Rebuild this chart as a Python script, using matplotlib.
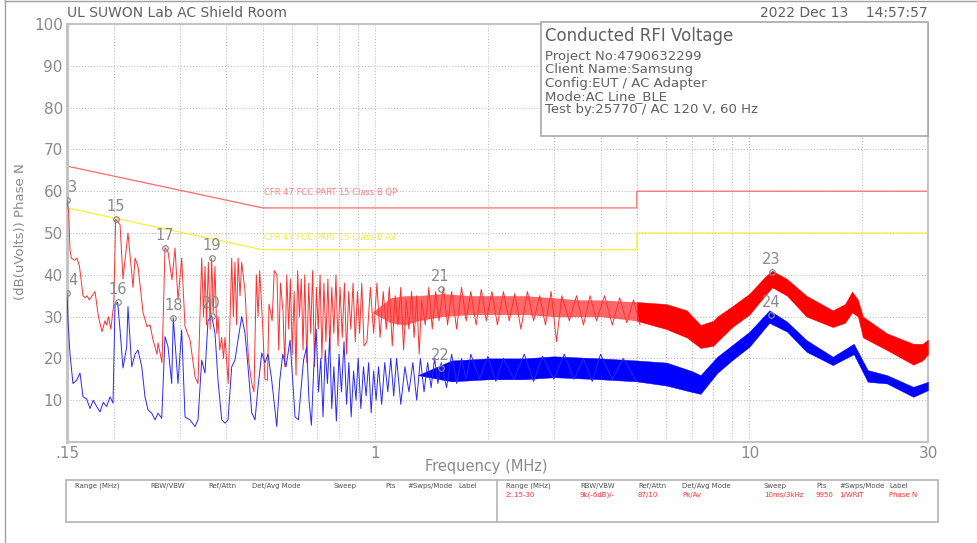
import matplotlib
matplotlib.use("Agg")
import matplotlib.pyplot as plt
from matplotlib.patches import Rectangle
from matplotlib.lines import Line2D

# ---- data ----
# peak trace (red), low band drawn as a line
red_f = [0.150, 0.1515, 0.1528, 0.154, 0.157, 0.1595, 0.162, 0.1655, 0.168, 0.1697,
         0.172, 0.1782, 0.182, 0.186, 0.1895, 0.1915, 0.1935, 0.1965, 0.200, 0.2024,
         0.2079, 0.2117, 0.2183, 0.2252, 0.2280, 0.2322, 0.2395, 0.2454, 0.2500, 0.2547,
         0.2610, 0.2626, 0.2692, 0.2742, 0.2793, 0.2862, 0.2916, 0.2970, 0.3038, 0.3101,
         0.3198, 0.3298, 0.3359, 0.3436, 0.3475, 0.3507, 0.354, 0.358, 0.362, 0.3654,
         0.369, 0.3729, 0.377, 0.380, 0.384, 0.3886, 0.393, 0.3966, 0.4046, 0.4133,
         0.4175, 0.4217, 0.426, 0.430, 0.435, 0.4396, 0.4486, 0.458, 0.4675, 0.474,
         0.481, 0.486, 0.491, 0.500, 0.507, 0.515, 0.520, 0.530, 0.537, 0.546,
         0.552, 0.558, 0.567, 0.573, 0.580, 0.587, 0.593, 0.600, 0.607, 0.614,
         0.620, 0.627, 0.634, 0.641, 0.648, 0.656, 0.664, 0.672, 0.680, 0.688,
         0.696, 0.704, 0.712, 0.720, 0.729, 0.738, 0.747, 0.756, 0.765, 0.775,
         0.785, 0.795, 0.805, 0.816, 0.827, 0.838, 0.849, 0.860, 0.872, 0.884,
         0.896, 0.908, 0.920, 0.933, 0.95, 0.97, 0.99, 1.01, 1.03, 1.05,
         1.07, 1.09, 1.11, 1.13, 1.15, 1.17, 1.19, 1.21, 1.23, 1.25,
         1.27, 1.29, 1.31, 1.33, 1.36, 1.39, 1.42, 1.45, 1.48, 1.52,
         1.56, 1.60, 1.65, 1.70, 1.75, 1.80, 1.86, 1.92, 1.98, 2.05,
         2.12, 2.20, 2.28, 2.36, 2.45, 2.55, 2.65, 2.75, 2.85, 2.95,
         3.05, 3.15, 3.30, 3.45, 3.60, 3.75, 3.90, 4.10, 4.30, 4.50,
         4.70, 4.90, 5.10]
red_db = [57.9, 55, 46, 44, 43.5, 44, 42, 35, 34.5, 35,
          34, 36, 30, 26.4, 29, 28, 30, 27, 33, 53.3,
          52, 39, 50, 37, 44, 42, 31, 27.6, 28, 24.4,
          21, 23.7, 19, 46.5, 45.5, 38.8, 46.4, 34, 44, 27.6,
          24.4, 15.6, 14, 44, 30, 42, 28, 43, 27, 43.9,
          31, 42, 26, 30, 22, 25, 20, 25, 14, 44,
          30, 43, 28, 44, 35, 43, 36, 20, 14, 12,
          40, 30, 41, 28, 15, 14.8, 33, 29, 41, 40,
          22, 38, 31, 18, 40, 27, 39, 21, 36, 16,
          41, 30, 39, 22, 40, 19, 38, 26, 41, 18,
          37, 27, 40, 20, 38, 24, 39, 22, 37, 26,
          40, 23, 37, 25, 38, 21, 36, 27, 38, 24,
          36, 26, 38, 23, 24, 37, 26, 38, 25, 36,
          27, 37, 23, 35, 28, 37, 22, 34, 27, 36,
          25, 35, 21, 34, 28, 37, 27, 36, 29, 37,
          28, 36, 27, 37, 29, 36, 28, 36.5, 29, 36,
          28, 36, 29, 35.5, 27, 36, 29, 35, 28, 36,
          24, 35, 29, 35, 28, 35, 29, 35, 28, 34.5,
          28.5, 34, 28]

# peak trace above ~1 MHz: min / max of the dense noise band
red_env_f = [0.98, 1.1, 1.2, 1.3, 1.5, 1.8, 2.0, 2.5, 3.0,
             3.5, 4.0, 5.0, 6.0, 6.8, 7.4, 8.0, 8.2, 9.0, 10.0,
             11.0, 11.5, 12.6, 14.2, 16.7, 18.0, 18.8, 19.5, 20.1, 23.3,
             27.4, 29.0, 30.0]
red_env_lo = [31, 28.5, 28, 29, 30, 30.5, 30.5, 30.5, 30,
              30, 30, 29, 27, 25, 22.5, 23, 24, 27.5, 30.5,
              35, 37, 35, 30, 27.5, 28.5, 31, 30, 25, 22,
              18.5, 19.5, 21]
red_env_hi = [31, 34.5, 35, 35, 35.5, 35, 35, 35, 34.5,
              34, 34, 33.5, 33, 31.5, 28, 29, 30, 32.5, 35.5,
              39.5, 41, 39, 35, 31.5, 33, 36, 34, 30, 26,
              23.5, 23.5, 24.5]

# average trace (blue)
blue_f = [0.150, 0.1509, 0.1528, 0.1556, 0.1592, 0.1625, 0.1655, 0.1693, 0.1728, 0.1763,
          0.1800, 0.1838, 0.1875, 0.1915, 0.1955, 0.1991, 0.2016, 0.2049, 0.2079, 0.2117,
          0.2166, 0.2183, 0.2234, 0.2280, 0.2322, 0.2376, 0.2424, 0.2469, 0.2526, 0.2578,
          0.2626, 0.2687, 0.2742, 0.2793, 0.2857, 0.2885, 0.2970, 0.3038, 0.3101, 0.3198,
          0.3298, 0.3359, 0.3436, 0.3507, 0.3572, 0.3654, 0.3729, 0.3799, 0.3886, 0.3966,
          0.4040, 0.4133, 0.4217, 0.4296, 0.4396, 0.4486, 0.4569, 0.4675, 0.4771, 0.486,
          0.4972, 0.5074, 0.5168, 0.5287, 0.5453, 0.5555, 0.566, 0.5774, 0.5918, 0.6103,
          0.623, 0.643, 0.6559, 0.665, 0.675, 0.685, 0.695, 0.705, 0.715, 0.725,
          0.735, 0.745, 0.755, 0.765, 0.775, 0.787, 0.800, 0.812, 0.825, 0.838,
          0.850, 0.862, 0.875, 0.888, 0.900, 0.915, 0.930, 0.945, 0.960, 0.975,
          0.990, 1.005, 1.020, 1.040, 1.060, 1.080, 1.100, 1.12, 1.14, 1.17,
          1.20, 1.23, 1.26, 1.29, 1.32, 1.35, 1.38, 1.41, 1.44, 1.47,
          1.50, 1.55, 1.60, 1.65, 1.70, 1.75, 1.80, 1.90, 2.00, 2.10,
          2.20, 2.35, 2.50, 2.65, 2.80, 3.00, 3.20, 3.40, 3.60, 3.80,
          4.00, 4.30, 4.60, 5.00]
blue_db = [35.6, 29, 21, 14, 14.8, 16.5, 10.8, 10.3, 8, 10,
           8.5, 7.2, 9.5, 8.5, 10.8, 9.3, 33, 33.4, 26.8, 17.7,
           22.8, 32.4, 18, 21, 22, 18, 10.8, 7.7, 6.9, 5.3,
           6.9, 5.7, 25.2, 22.8, 14, 29.7, 14, 26.8, 6, 5.3,
           3.7, 5.3, 19.6, 16.5, 29, 30.2, 26, 14.8, 5.3, 4.5,
           5.3, 18, 19.6, 24.4, 30, 26, 18, 7, 5.3, 13.2,
           21.3, 19, 21, 14.8, 3.7, 14.8, 21, 18, 24.4, 6,
           5.3, 19.6, 22.8, 10, 4, 18, 27, 12, 20, 6,
           22, 14, 25, 8, 18, 5, 21, 12, 24, 9,
           19, 6, 17, 10, 20, 8, 18, 11, 19, 7,
           17, 10, 18, 9, 19, 12, 20, 11, 20, 9,
           18, 12, 19, 10, 20, 12, 19, 13, 20, 14,
           19, 13, 21, 14, 20, 15, 21, 15, 20.5, 14.5,
           20, 15, 21, 14.5, 20.5, 15, 21, 15, 20, 14.5,
           21, 15, 20, 14.5]

blue_env_f = [1.3, 1.6, 2.0, 2.5, 3.0, 4.0, 5.0, 6.0,
              7.0, 7.4, 8.2, 9.0, 10.0, 11.3, 12.6, 14.2, 16.7, 19.0,
              20.7, 23.3, 27.4, 30.0]
blue_env_lo = [16, 14.5, 15, 15, 15.5, 15, 14.5, 13.5,
               12, 11.5, 16.5, 19.6, 22.8, 28.5, 26.4, 21.6, 18.4, 21,
               14.4, 14, 10.8, 12.4]
blue_env_hi = [16, 19.5, 20, 20, 20.5, 20, 19.5, 19,
               17, 16, 20.4, 23.2, 26.4, 31.5, 28.8, 24.4, 20.4, 23.5,
               17.2, 16, 13.2, 14.4]

# FCC Part 15 class B limits
lim_f = [0.15, 0.5, 5.0, 5.0, 30.0]
qp_lim = [66, 56, 56, 60, 60]
av_lim = [56, 46, 46, 50, 50]

# markers
mk_names = ["3", "4", "15", "16", "17", "18", "19", "20", "21", "22", "23", "24"]
mk_f = [0.150, 0.150, 0.2024, 0.2049, 0.2742, 0.2885, 0.3654, 0.3654, 1.494, 1.494, 11.46, 11.40]
mk_db = [57.9, 35.6, 53.3, 33.4, 46.5, 29.7, 43.9, 30.2, 36.6, 17.7, 40.6, 30.4]

grid_f = [0.2, 0.3, 0.4, 0.5, 0.6, 0.7, 0.8, 0.9, 1, 2, 3, 4, 5, 6, 7, 8, 9, 10, 20]
grid_db = [10, 20, 30, 40, 50, 60, 70, 80, 90]

info_lines = ["Project No:4790632299", "Client Name:Samsung", "Config:EUT / AC Adapter",
              "Mode:AC Line_BLE", "Test by:25770 / AC 120 V, 60 Hz"]
tbl_head = ["Range (MHz)", "RBW/VBW", "Ref/Attn", "Det/Avg Mode", "Sweep", "Pts", "#Swps/Mode", "Label"]
tbl_vals = ["2:.15-30", "9k(-6dB)/-", "87/10", "Pk/Av", "10ms/3kHz", "9950", "1/WRIT", "Phase N"]
tbl_x = [75, 150, 208, 252, 333, 385, 407, 458]
tbl_x2 = [506, 580, 638, 682, 764, 816, 839, 889]

W, H = 977, 543
GRAY = "#8a8a8a"


def fx(px):
    return px / W


def fy(py):
    return 1 - py / H


fig = plt.figure(figsize=(W / 100, H / 100), dpi=100)
ax = fig.add_axes([fx(67), fy(442), (928 - 67) / W, (442 - 24) / H])
ax.set_xscale("log")
ax.set_xlim(0.15, 30)
ax.set_ylim(0, 100)

for g in grid_f:
    ax.axvline(g, color="#b4b4b4", lw=0.7, ls=(0, (1, 2)), zorder=1)
for g in grid_db:
    ax.axhline(g, color="#b4b4b4", lw=0.7, ls=(0, (1, 2)), zorder=1)

ax.set_xticks([0.15, 1, 10, 30])
ax.set_xticklabels([".15", "1", "10", "30"])
ax.xaxis.set_minor_locator(matplotlib.ticker.NullLocator())
ax.set_yticks(range(10, 101, 10))
ax.tick_params(length=0, colors=GRAY, labelsize=11, pad=3)
for s in ax.spines.values():
    s.set_color("#c4c4c4")
    s.set_linewidth(1.5)
ax.spines["left"].set_linewidth(2.2)

# limits
ax.plot(lim_f, qp_lim, color="#ff6a6a", lw=0.9, zorder=2)
ax.plot(lim_f, av_lim, color="#f2f23a", lw=0.9, zorder=2)
ax.text(0.505, 59.6, "CFR 47 FCC PART 15 Class B QP", color="#ff8080", fontsize=6, va="center")
ax.text(0.505, 49.0, "CFR 47 FCC PART 15 Class B AV", color="#eeee40", fontsize=6, va="center")

# traces: noisy band below 5 MHz is lighter, solid above
i5 = red_env_f.index(5.0)
ax.fill_between(red_env_f[:i5 + 1], red_env_lo[:i5 + 1], red_env_hi[:i5 + 1],
                color="#ff2020", lw=0, alpha=0.68, zorder=3)
ax.fill_between(red_env_f[i5:], red_env_lo[i5:], red_env_hi[i5:],
                color="#ff0000", lw=0.3, zorder=3)
ax.plot(red_f, red_db, color="#ff3030", lw=0.7, zorder=3)

ax.fill_between(blue_env_f, blue_env_lo, blue_env_hi, color="#0000ff", lw=0.3, zorder=4)
ax.plot(blue_f, blue_db, color="#2828ff", lw=0.7, zorder=4)

# markers
ax.plot(mk_f, mk_db, ls="none", marker="o", ms=4, mfc="none", mec=GRAY, mew=0.9, zorder=6)
for name, f, d in zip(mk_names, mk_f, mk_db):
    dx = 4 if f < 0.16 else 0
    ax.annotate(name, (f, d), xytext=(dx, 9), textcoords="offset points",
                ha="center", va="center", color=GRAY, fontsize=10.5, zorder=7)

# header
fig.text(fx(67), fy(13), "UL SUWON Lab AC Shield Room", color="#606060", fontsize=10, va="center")
fig.text(fx(928), fy(13), "2022 Dec 13    14:57:57", color="#606060", fontsize=10, va="center", ha="right")
fig.text(fx(21), fy(232), "(dB(uVolts)) Phase N", color=GRAY, fontsize=9.5, rotation=90,
         ha="center", va="center")
fig.text(fx(486), fy(466), "Frequency (MHz)", color=GRAY, fontsize=10.5, ha="center", va="center")

# info box
fig.add_artist(Rectangle((fx(541), fy(136)), (928 - 541) / W, (136 - 22) / H,
                         transform=fig.transFigure, fc="white", ec="#a8a8a8", lw=1.2, zorder=5))
fig.text(fx(545), fy(36), "Conducted RFI Voltage", color="#606060", fontsize=12, va="center", zorder=6)
for i, line in enumerate(info_lines):
    fig.text(fx(545), fy(56.7 + 13.2 * i), line, color="#606060", fontsize=9.5, va="center", zorder=6)

# settings table
fig.add_artist(Rectangle((fx(66), fy(522)), (938 - 66) / W, (522 - 480) / H,
                         transform=fig.transFigure, fc="none", ec="#b4b4b4", lw=1.2))
fig.add_artist(Line2D([fx(497), fx(497)], [fy(480), fy(522)], transform=fig.transFigure,
                      color="#b4b4b4", lw=1.2))
for h, x1, x2 in zip(tbl_head, tbl_x, tbl_x2):
    fig.text(fx(x1), fy(486), h, color="#505050", fontsize=5, va="center")
    fig.text(fx(x2), fy(486), h, color="#505050", fontsize=5, va="center")
for v, x2 in zip(tbl_vals, tbl_x2):
    fig.text(fx(x2), fy(495), v, color="#ff3030", fontsize=5, va="center")

# page border
fig.add_artist(Line2D([fx(5), fx(5)], [0, 1], transform=fig.transFigure, color="#a0a0a0", lw=1))
fig.add_artist(Line2D([fx(5), 1], [fy(1), fy(1)], transform=fig.transFigure, color="#a0a0a0", lw=1))

fig.savefig("out.png", dpi=100)
